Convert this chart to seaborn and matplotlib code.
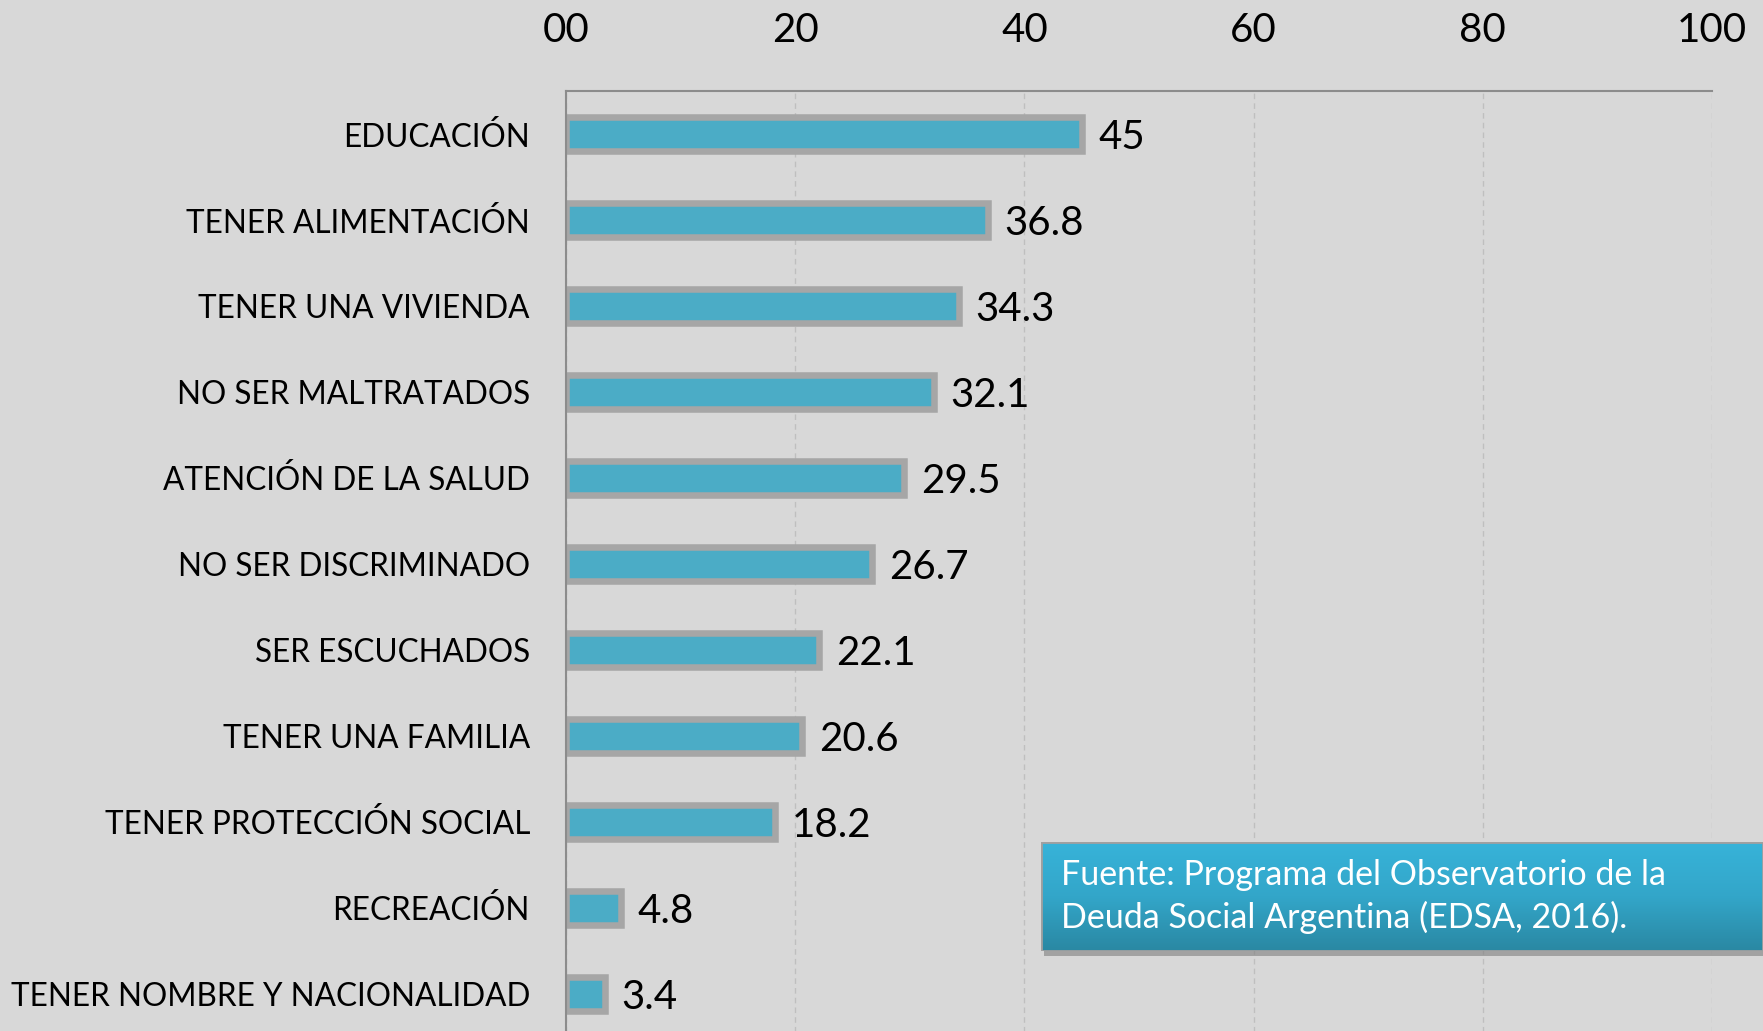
import numpy as np
import pandas as pd
import matplotlib
matplotlib.use("Agg")
import matplotlib.pyplot as plt
import seaborn as sns

# Data
categorias = ["EDUCACIÓN", "TENER ALIMENTACIÓN", "TENER UNA VIVIENDA", "NO SER MALTRATADOS",
              "ATENCIÓN DE LA SALUD", "NO SER DISCRIMINADO", "SER ESCUCHADOS",
              "TENER UNA FAMILIA", "TENER PROTECCIÓN SOCIAL", "RECREACIÓN",
              "TENER NOMBRE Y NACIONALIDAD"]
valores = [45, 36.8, 34.3, 32.1, 29.5, 26.7, 22.1, 20.6, 18.2, 4.8, 3.4]
x_ticks = [0, 20, 40, 60, 80, 100]
x_tick_labels = ["00", "20", "40", "60", "80", "100"]
fuente = "Fuente: Programa del Observatorio de la\nDeuda Social Argentina (EDSA, 2016)."

df = pd.DataFrame({"categoria": categorias, "valor": valores})

BG = "#d8d8d8"
sns.set_style("white", {"axes.facecolor": BG, "figure.facecolor": BG})
plt.rcParams["font.family"] = ["Lato", "DejaVu Sans"]

W, H = 1763, 1031
fig = plt.figure(figsize=(W / 100, H / 100), dpi=100)
ax = fig.add_axes([566 / W, 1 - 1037 / H, (1712 - 566) / W, (1037 - 91) / H])

sns.barplot(data=df, x="valor", y="categoria", orient="h", color="#4bacc6",
            saturation=1, edgecolor="#a6a6a6", linewidth=4.7, width=0.4, ax=ax)

ax.set_xlim(0, 100)
ax.set_ylim(10.5, -0.5)
ax.set_xlabel("")
ax.set_ylabel("")

# axis on top
ax.xaxis.tick_top()
ax.set_xticks(x_ticks)
ax.set_xticklabels(x_tick_labels)
ax.tick_params(axis="x", length=0, pad=30, labelsize=29, labelcolor="black")
ax.tick_params(axis="y", length=0, pad=26, labelsize=22.7, labelcolor="black")

ax.grid(axis="x", color="#bfbfbf", linestyle=(0, (4, 3)), linewidth=1)
ax.set_axisbelow(True)
for s in ["right", "bottom"]:
    ax.spines[s].set_visible(False)
for s in ["top", "left"]:
    ax.spines[s].set_color("#8c8c8c")
    ax.spines[s].set_linewidth(1.5)

labels = ax.bar_label(ax.containers[0], fmt="{:g}", padding=12, fontsize=29, color="black")
for t in labels:
    t.set_va("center_baseline")

# Source box with gradient
bx0, by0, bx1, by1 = 1041, 842, 1763, 951
shadow = plt.Rectangle(((bx0 + 3) / W, 1 - (by1 + 5) / H), (bx1 - bx0) / W, (by1 - by0) / H,
                       transform=fig.transFigure, facecolor="#7f7f7f", alpha=0.6,
                       edgecolor="none", zorder=5)
fig.patches.append(shadow)
bax = fig.add_axes([bx0 / W, 1 - by1 / H, (bx1 - bx0) / W, (by1 - by0) / H], zorder=6)
grad = np.linspace(0, 1, 100).reshape(-1, 1)
cmap = matplotlib.colors.LinearSegmentedColormap.from_list("g", ["#37b3d9", "#33a6c9", "#2a88a3"])
bax.imshow(grad, aspect="auto", cmap=cmap, extent=[0, 1, 0, 1], origin="upper")
bax.set_axis_off()
bax.add_patch(plt.Rectangle((0, 0), 1, 1, transform=bax.transAxes, fill=False,
                            edgecolor="#a0a0a0", linewidth=2))
bax.text(20 / (bx1 - bx0), 0.5, fuente, transform=bax.transAxes, color="white",
         fontsize=24.5, va="center", ha="left", linespacing=1.4)

fig.savefig("out.png", dpi=100, facecolor=BG)
